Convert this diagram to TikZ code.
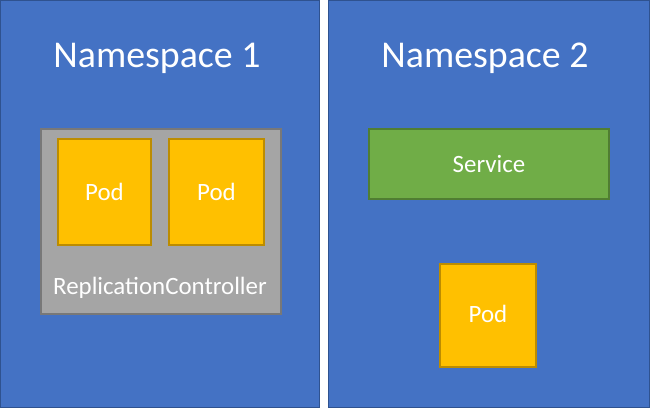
\documentclass[tikz,border=0pt]{standalone}
\usepackage{fontspec}
\setmainfont{Carlito}
\definecolor{nsblue}{HTML}{4472C4}
\definecolor{nsedge}{HTML}{2F528F}
\definecolor{rcgray}{HTML}{A5A5A5}
\definecolor{rcedge}{HTML}{787878}
\definecolor{podgold}{HTML}{FFC000}
\definecolor{podedge}{HTML}{BC8C00}
\definecolor{svcgreen}{HTML}{70AD47}
\definecolor{svcedge}{HTML}{507E32}
\begin{document}
\begin{tikzpicture}[x=1bp,y=-1bp,
  nsbox/.style={fill=nsblue,draw=nsedge,line width=1bp},
  rcbox/.style={fill=rcgray,draw=rcedge,line width=1.5bp},
  podbox/.style={fill=podgold,draw=podedge,line width=1.5bp},
  svcbox/.style={fill=svcgreen,draw=svcedge,line width=1.5bp},
  title/.style={text=white,font=\fontsize{38}{40}\selectfont,inner sep=0pt,anchor=base},
  label/.style={text=white,font=\fontsize{25}{27}\selectfont,inner sep=0pt,anchor=base}]
\useasboundingbox (0,0) rectangle (650,408);
\fill[white] (0,0) rectangle (650,408);
% namespaces
\draw[nsbox] (0.5,0.5) rectangle (319,407.5);
\draw[nsbox] (328,0.5) rectangle (649.5,407.5);
\node[title] (ns1) at (157,67) {Namespace 1};
\node[title] (ns2) at (485,67) {Namespace 2};
% replication controller
\draw[rcbox] (41,129) rectangle (281,314);
\node[label] (rc) at (160,294) {ReplicationController};
% pods
\draw[podbox] (58,139) rectangle (151,245);
\node[label] (pod1) at (104.5,200) {Pod};
\draw[podbox] (169,139) rectangle (264,245);
\node[label] (pod2) at (216.5,200) {Pod};
% service
\draw[svcbox] (369,129) rectangle (609,199);
\node[label] (svc) at (489,172) {Service};
% pod 3
\draw[podbox] (440,264) rectangle (536,367);
\node[label] (pod3) at (488,322) {Pod};
\end{tikzpicture}
\end{document}
